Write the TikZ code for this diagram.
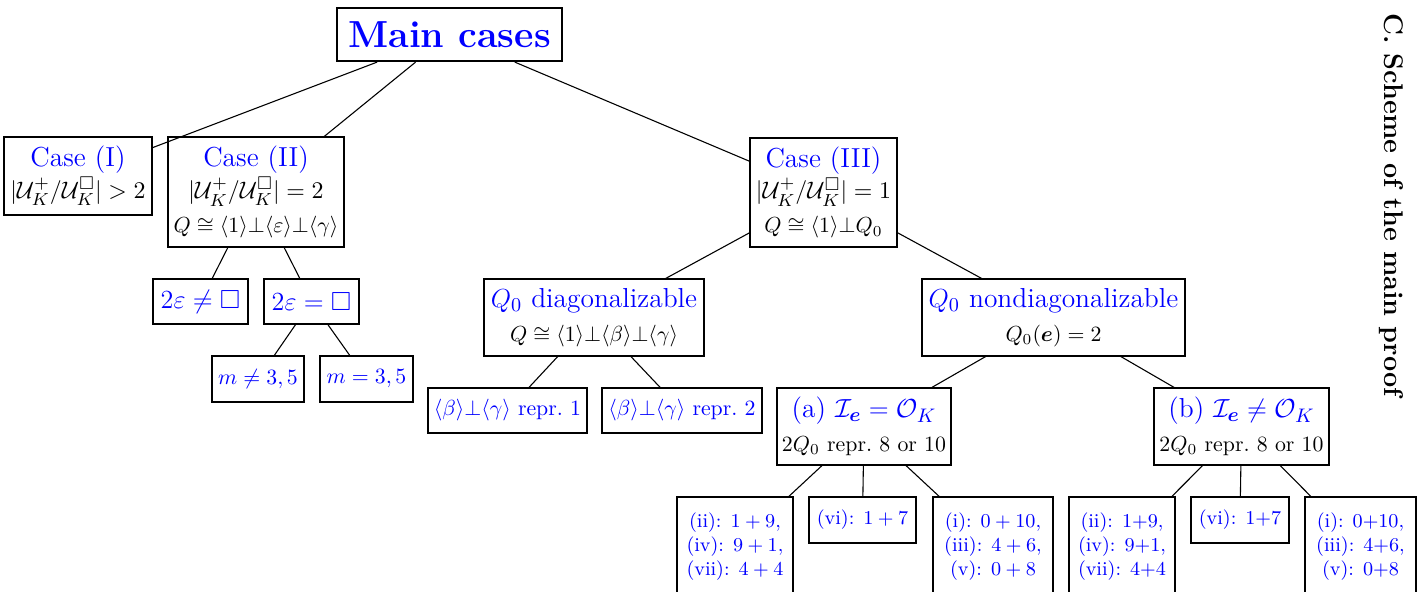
\documentclass[tikz,border=0pt]{standalone}
\usepackage{amsmath,amssymb}
\usepackage{bm}
\newcommand\blu[1]{\textcolor{blue}{#1}}
\newcommand\UKq{|\mathcal{U}^+_K/\mathcal{U}^\square_K|}
\newcommand\mline[1]{{\fontsize{11}{13}\selectfont #1}}
\begin{document}
\begin{tikzpicture}[x=0.4587pt,y=-0.4587pt,
  box/.style={draw=black, line width=0.5pt, align=center, inner sep=0pt, font=\fontsize{12.6}{14.5}\selectfont},
  sz/.style 2 args={minimum width=#1*0.4587pt, minimum height=#2*0.4587pt},
  edge/.style={line width=0.5pt}]
\useasboundingbox (0,0) rectangle (1418,591);
\clip (0,0) rectangle (1418,591);
% level 0
\node[box, sz={225}{53}, line width=1pt, font=\LARGE\bfseries] (main) at (449.5,34.5) {\blu{Main cases}};
% level 1
\node[box, sz={148}{78}] (c1) at (78,176) {\blu{Case (I)}\\ \mline{$\UKq>2$}};
\node[box, sz={176}{110}] (c2) at (256,192) {\blu{Case (II)}\\ \mline{$\UKq=2$}\\[1pt] {\normalsize $Q\cong\langle1\rangle{\perp}\langle\varepsilon\rangle{\perp}\langle\gamma\rangle$}};
\node[box, sz={147}{109}] (c3) at (823.5,192.5) {\blu{Case (III)}\\ \mline{$\UKq=1$}\\[1pt] {\normalsize $Q\cong\langle1\rangle{\perp}Q_0$}};
% level 2
\node[box, sz={95}{45}, font=\large] (d1) at (200.5,301.5) {\blu{$2\varepsilon\neq\square$}};
\node[box, sz={95}{45}, font=\large] (d2) at (311.5,301.5) {\blu{$2\varepsilon=\square$}};
\node[box, sz={220}{77}] (qd) at (594,317.5) {\blu{$Q_0$ diagonalizable}\\[1pt] {\normalsize $Q\cong\langle1\rangle{\perp}\langle\beta\rangle{\perp}\langle\gamma\rangle$}};
\node[box, sz={263}{77}] (qn) at (1053.5,317.5) {\blu{$Q_0$ nondiagonalizable}\\[1pt] {\normalsize $Q_0(\bm{e})=2$}};
% level 3
\node[box, sz={92}{46}, font=\normalsize] (m1) at (258,379) {\blu{$m\neq3,5$}};
\node[box, sz={93}{46}, font=\normalsize] (m2) at (366.5,379) {\blu{$m=3,5$}};
\node[box, sz={159}{45}, font=\normalsize] (r1) at (507.5,410.5) {\blu{$\langle\beta\rangle{\perp}\langle\gamma\rangle$ repr.~1}};
\node[box, sz={160}{45}, font=\normalsize] (r2) at (682,410.5) {\blu{$\langle\beta\rangle{\perp}\langle\gamma\rangle$ repr.~2}};
\node[box, sz={174}{77}] (ca) at (864,426.5) {\blu{(a) $\mathcal{I}_{\bm{e}}=\mathcal{O}_K$}\\[1pt] {\normalsize $2Q_0$ repr.~8 or 10}};
\node[box, sz={175}{77}] (cb) at (1241.5,426.5) {\blu{(b) $\mathcal{I}_{\bm{e}}\neq\mathcal{O}_K$}\\[1pt] {\normalsize $2Q_0$ repr.~8 or 10}};
% level 4
\node[box, sz={116}{99}, font=\small] (a1) at (735,546.5) {\blu{(ii): $1+9$,}\\ \blu{(iv): $9+1$,}\\ \blu{(vii): $4+4$}};
\node[box, sz={107}{46}, font=\small] (a2) at (862.5,520) {\blu{(vi): $1+7$}};
\node[box, sz={120}{99}, font=\small] (a3) at (993,546.5) {\blu{(i): $0+10$,}\\ \blu{(iii): $4+6$,}\\ \blu{(v): $0+8$}};
\node[box, sz={106}{99}, font=\small] (b1) at (1122,546.5) {\blu{(ii): $1{+}9$,}\\ \blu{(iv): $9{+}1$,}\\ \blu{(vii): $4{+}4$}};
\node[box, sz={98}{46}, font=\small] (b2) at (1240,520) {\blu{(vi): $1{+}7$}};
\node[box, sz={111}{99}, font=\small] (b3) at (1360.5,546.5) {\blu{(i): $0{+}10$,}\\ \blu{(iii): $4{+}6$,}\\ \blu{(v): $0{+}8$}};
% side title
\node[rotate=-90, font=\fontsize{12.4}{15}\selectfont\bfseries] (title) at (1391,205) {C. Scheme of the main proof};
% edges
\draw[edge] (main) -- (c1);
\draw[edge] (main) -- (c2);
\draw[edge] (main) -- (c3);
\draw[edge] (c2) -- (d1);
\draw[edge] (c2) -- (d2);
\draw[edge] (d2) -- (m1);
\draw[edge] (d2) -- (m2);
\draw[edge] (c3) -- (qd);
\draw[edge] (c3) -- (qn);
\draw[edge] (qd) -- (r1);
\draw[edge] (qd) -- (r2);
\draw[edge] (qn) -- (ca);
\draw[edge] (qn) -- (cb);
\draw[edge] (ca) -- (a1);
\draw[edge] (ca) -- (a2);
\draw[edge] (ca) -- (a3);
\draw[edge] (cb) -- (b1);
\draw[edge] (cb) -- (b2);
\draw[edge] (cb) -- (b3);
\end{tikzpicture}
\end{document}
